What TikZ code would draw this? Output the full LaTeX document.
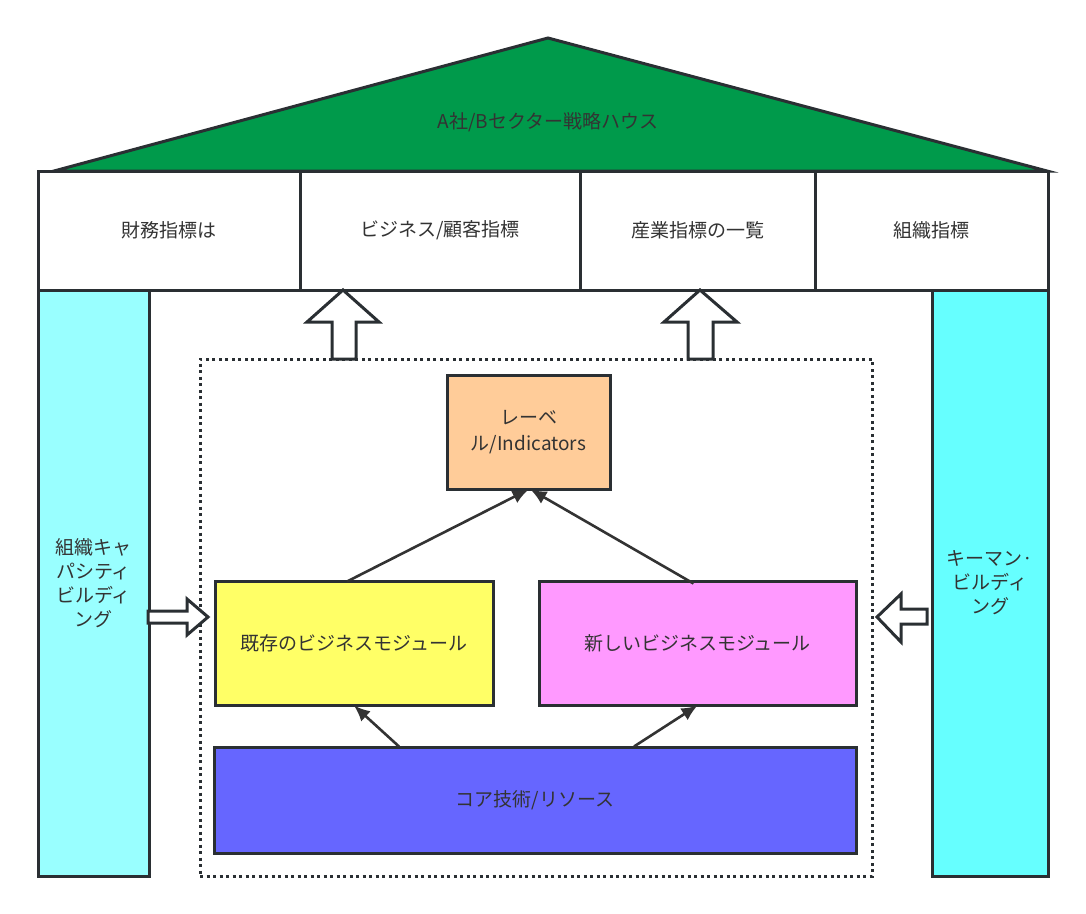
\documentclass[tikz,border=0pt]{standalone}
\usepackage{fontspec}
\setmainfont{Noto Sans CJK JP}
\usetikzlibrary{arrows.meta}
\definecolor{lc}{HTML}{2A2F33}
\definecolor{tc}{HTML}{333333}
\definecolor{ac}{HTML}{333333}
\definecolor{roofc}{HTML}{009A4B}
\definecolor{cyanL}{HTML}{99FFFF}
\definecolor{cyanR}{HTML}{66FFFF}
\definecolor{orangec}{HTML}{FFCC99}
\definecolor{yellowc}{HTML}{FFFF66}
\definecolor{pinkc}{HTML}{FF99FF}
\definecolor{bluec}{HTML}{6666FF}
\begin{document}
\begin{tikzpicture}[x=1pt,y=-1pt,line join=miter]
\tikzset{
  lbl/.style={font=\fontsize{19}{24}\selectfont, text=tc, align=center},
  box/.style={draw=lc, line width=3pt, lbl, inner sep=0pt, anchor=center},
  link/.style={draw=ac, line width=2.6pt, -{Latex[length=16pt,width=14pt]}},
  blockarrow/.style={draw=lc, fill=white, line width=3pt},
  frame/.style={draw=lc, line width=3pt, dash pattern=on 3pt off 3.5pt, inner sep=0pt},
}
\useasboundingbox (0,0) rectangle (1086,913);
% pillars
\node[box, fill=cyanL, minimum width=111pt, minimum height=586pt] (pl) at (93.5,583) {組織キャ\\パシティ\\ビルディ\\ング};
\node[box, fill=cyanR, minimum width=116pt, minimum height=586pt] (pr) at (990,583) {キーマン·\\ビルディ\\ング};
% header cells
\node[box, fill=white, minimum width=262pt, minimum height=119pt] (h1) at (169,230.5) {財務指標は};
\node[box, fill=white, minimum width=280pt, minimum height=119pt] (h2) at (440,230.5) {ビジネス/顧客指標};
\node[box, fill=white, minimum width=235pt, minimum height=119pt] (h3) at (697.5,230.5) {産業指標の一覧};
\node[box, fill=white, minimum width=233pt, minimum height=119pt] (h4) at (931.5,230.5) {組織指標};
% roof
\draw[draw=lc, fill=roofc, line width=3pt] (54,171) -- (548,38) -- (1047,171) -- cycle;
\node[lbl] (roof) at (548,122) {A社/Bセクター戦略ハウス};
% dotted frame
\node[frame, minimum width=672pt, minimum height=517pt] (fr) at (536,617.5) {};
% block arrows up
\draw[blockarrow] (343,290) -- (379,322) -- (356,322) -- (356,359) -- (332,359) -- (332,322) -- (307,322) -- cycle;
\draw[blockarrow] (700,290) -- (737,322) -- (713,322) -- (713,359) -- (688,359) -- (688,322) -- (664,322) -- cycle;
% side block arrows
\draw[blockarrow] (208,617) -- (187,599) -- (187,611) -- (148,611) -- (148,623) -- (187,623) -- (187,635) -- cycle;
\draw[blockarrow] (877,617) -- (901,594) -- (901,609) -- (927,609) -- (927,624) -- (901,624) -- (901,642) -- cycle;
% inner boxes
\node[box, fill=orangec, minimum width=163pt, minimum height=114pt, font=\fontsize{19}{26}\selectfont] (ind) at (528.5,432) {レーベ\\ル/Indicators};
\node[box, fill=yellowc, minimum width=278pt, minimum height=124pt] (ex) at (354,643) {既存のビジネスモジュール};
\node[box, fill=pinkc, minimum width=317pt, minimum height=124pt] (nw) at (697.5,643) {新しいビジネスモジュール};
\node[box, fill=bluec, minimum width=642pt, minimum height=106pt] (core) at (535,800) {コア技術/リソース};
% connectors
\draw[link] ([xshift=-7pt,yshift=-2pt]ex.north) -- ([yshift=1pt]ind.south);
\draw[link] ([xshift=-4pt,yshift=-4pt]nw.north) -- ([xshift=2pt,yshift=1pt]ind.south);
\draw[link] ([xshift=-136pt,yshift=-1pt]core.north) -- ([yshift=1pt]ex.south);
\draw[link] ([xshift=99pt,yshift=-1pt]core.north) -- ([yshift=1pt]nw.south);
\end{tikzpicture}
\end{document}
